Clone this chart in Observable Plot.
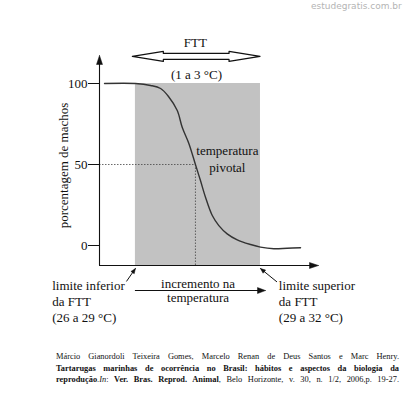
<!DOCTYPE html>
<html>
<head>
<meta charset="utf-8">
<script src="https://cdn.jsdelivr.net/npm/d3@7"></script>
<script src="https://cdn.jsdelivr.net/npm/@observablehq/plot@0.6"></script>
<style>
  html, body { margin: 0; padding: 0; background: #fff; }
  body { position: relative; width: 408px; height: 395px; overflow: hidden; }
  #wm { position: absolute; left: 311px; top: 1px; font: 9px "DejaVu Sans", sans-serif; color: #b4b4b4; white-space: nowrap; }
  #chart { position: absolute; left: 0; top: 0; }
  #chart svg, #chart svg text { font-family: "Liberation Serif", "Times New Roman", serif !important; }
  #cap { position: absolute; left: 56px; top: 351px; width: 343px; font: 8.4px "Liberation Serif", serif; line-height: 11.7px; color: #111; }
  #cap div { text-align: justify; text-align-last: justify; white-space: nowrap; }
</style>
</head>
<body>
<div id="chart"></div>
<div id="wm">estudegratis.com.br</div>
<div id="cap">
  <div>Márcio Gianordoli Teixeira Gomes, Marcelo Renan de Deus Santos e Marc Henry.</div>
  <div><b>Tartarugas marinhas de ocorrência no Brasil: hábitos e aspectos da biologia da</b></div>
  <div><b>reprodução</b>.<i>In</i>: <b>Ver. Bras. Reprod. Animal</b>, Belo Horizonte, v. 30, n. 1/2, 2006,p. 19-27.</div>
</div>
<script>
// ---- data (abstract units: x = temperature increment 0..100, y = % males) ----
const curveX = [2.3, 16.4, 23.3, 27.9, 31.5, 35.5, 37.8, 40.8, 43.8, 46.1, 48.4, 51.5, 54.5, 58.3, 62.9, 69.0, 73.5, 79.6, 85.7, 91.8];
const curveY = [100, 100, 98.8, 96.9, 92.0, 83.3, 72.8, 63.0, 50, 40.1, 29.8, 18.5, 12.3, 7.2, 3.5, 0.6, -1.0, -2.0, -1.7, -1.4];
const yTicks = [0, 50, 100];
const fttBand = [16.4, 73.5];      // shaded FTT range
const fttArrow = [15, 73.3];        // double arrow extent
const pivotX = 43.8, pivotY = 50;
const xAxisY = -12.35, xAxisEnd = 100, yAxisTop = 117.3;

// scale definitions
const xDomain = [0, 100], xRange = [99, 318];
const yDomain = [0, 100], yRange = [245, 83];
const kx = (xRange[1] - xRange[0]) / (xDomain[1] - xDomain[0]);
const ky = (yRange[0] - yRange[1]) / (yDomain[1] - yDomain[0]);
const px = (dx) => dx / kx;
const py = (dy) => -dy / ky;

function head(tx, ty, ux, uy, L, W) {
  const n = Math.hypot(ux, uy); ux /= n; uy /= n;
  const nx = -uy, ny = ux;
  const bx = -L * ux, by = -L * uy;
  return [
    {x: tx, y: ty},
    {x: tx + px(bx + W * nx), y: ty + py(by + W * ny)},
    {x: tx + px(bx - W * nx), y: ty + py(by - W * ny)},
    {x: tx, y: ty}
  ];
}

const curve = curveX.map((x, i) => ({x, y: curveY[i]}));

const fy = 116.7, HL = 31, HH = 5, SH = 3;
const a0 = fttArrow[0], a1 = fttArrow[1];
const fttPoly = [
  [a0, 0], [a0 + px(HL), -HH], [a0 + px(HL), -SH], [a1 - px(HL), -SH], [a1 - px(HL), -HH],
  [a1, 0], [a1 - px(HL), HH], [a1 - px(HL), SH], [a0 + px(HL), SH], [a0 + px(HL), HH], [a0, 0]
].map(([x, d]) => ({x, y: fy + py(d)}));

const lowTip = {x: fttBand[0], y: -14.2}, lowTail = {x: 12.3, y: -22.2};
const upTip = {x: fttBand[1], y: -14.2}, upTail = {x: 81.05, y: -22.5};
const incY = -27.8, incX = [16.4, 75.8];

const serif = "'Liberation Serif', 'Times New Roman', serif";
const ink = "#111";
const T = {fontSize: 13, fill: ink, fontFamily: serif};

const plot = Plot.plot({
  width: 408,
  height: 345,
  margin: 0,
  x: {domain: xDomain, range: xRange, axis: null},
  y: {domain: yDomain, range: yRange, axis: null},
  style: {fontFamily: serif, background: "transparent"},
  marks: [
    Plot.rect([0], {x1: fttBand[0], x2: fttBand[1], y1: xAxisY, y2: 100, fill: "#c2c2c2"}),
    Plot.ruleY([pivotY], {x1: 0, x2: pivotX, stroke: "#444", strokeWidth: 0.8, strokeDasharray: "1.5,1.5"}),
    Plot.ruleX([pivotX], {y1: xAxisY, y2: pivotY, stroke: "#444", strokeWidth: 0.8, strokeDasharray: "1.5,1.5"}),
    Plot.line(curve, {x: "x", y: "y", curve: "catmull-rom", stroke: "#333", strokeWidth: 1.4}),
    Plot.ruleX([0], {y1: xAxisY, y2: yAxisTop + py(8), stroke: ink, strokeWidth: 1.1}),
    Plot.ruleY([xAxisY], {x1: 0, x2: xAxisEnd - px(8), stroke: ink, strokeWidth: 1.1}),
    Plot.line(head(0, yAxisTop, 0, -1, 9, 3), {x: "x", y: "y", fill: ink, stroke: ink, strokeWidth: 0.5}),
    Plot.line(head(xAxisEnd, xAxisY, 1, 0, 9, 3), {x: "x", y: "y", fill: ink, stroke: ink, strokeWidth: 0.5}),
    Plot.ruleY(yTicks, {x1: px(-11), x2: 0, stroke: ink, strokeWidth: 1}),
    Plot.text(yTicks, {...T, x: px(-11), y: d => d, text: d => String(d), dx: -1, textAnchor: "end"}),
    Plot.text(["porcentagem de machos"], {...T, x: px(-36), y: 49.4, rotate: -90}),
    Plot.line(fttPoly, {x: "x", y: "y", fill: "white", stroke: ink, strokeWidth: 1.2}),
    Plot.text(["FTT"], {...T, x: 43.8, y: 125.3}),
    Plot.text(["(1 a 3 °C)"], {...T, x: 44.3, y: 105.6}),
    Plot.text(["temperatura", "pivotal"], {...T, x: 58.4, y: (d, i) => [58.6, 48.1][i]}),
    Plot.link([0], {x1: lowTail.x, y1: lowTail.y, x2: lowTip.x, y2: lowTip.y, stroke: ink, strokeWidth: 1}),
    Plot.line(head(lowTip.x, lowTip.y, (lowTip.x - lowTail.x) * kx, -(lowTip.y - lowTail.y) * ky, 5, 2), {x: "x", y: "y", fill: ink, stroke: ink, strokeWidth: 0.5}),
    Plot.link([0], {x1: upTail.x, y1: upTail.y, x2: upTip.x, y2: upTip.y, stroke: ink, strokeWidth: 1}),
    Plot.line(head(upTip.x, upTip.y, (upTip.x - upTail.x) * kx, -(upTip.y - upTail.y) * ky, 5, 2), {x: "x", y: "y", fill: ink, stroke: ink, strokeWidth: 0.5}),
    Plot.ruleY([incY], {x1: incX[0], x2: incX[1] - px(7), stroke: ink, strokeWidth: 1.1}),
    Plot.line(head(incX[1], incY, 1, 0, 8, 3), {x: "x", y: "y", fill: ink, stroke: ink, strokeWidth: 0.5}),
    Plot.text(["incremento na", "temperatura"], {...T, x: 45.0, y: (d, i) => [-23.5, -32.1][i]}),
    Plot.text(["limite inferior", "da FTT", "(26 a 29 °C)"], {...T, x: -21.6, y: (d, i) => [-24.7, -34.6, -44.4][i], textAnchor: "start"}),
    Plot.text(["limite superior", "da FTT", "(29 a 32 °C)"], {...T, x: 81.9, y: (d, i) => [-24.7, -34.6, -44.4][i], textAnchor: "start"})
  ]
});
document.getElementById("chart").appendChild(plot);
</script>
</body>
</html>
